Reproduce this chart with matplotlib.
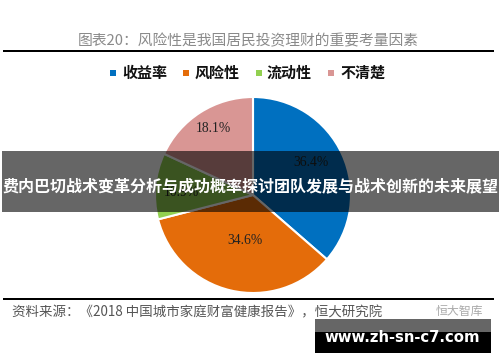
import matplotlib
matplotlib.use("Agg")
import matplotlib.pyplot as plt
from matplotlib.patches import Rectangle

plt.rcParams['font.family'] = ['Noto Sans CJK SC', 'DejaVu Sans']

W, H = 500, 362

labels = ['收益率', '风险性', '流动性', '不清楚']
values = [36.4, 34.6, 10.9, 18.1]
value_labels = ['36.4%', '34.6%', '10.9%', '18.1%']
colors = ['#0070C0', '#E46C0A', '#92D050', '#D99694']

title = '图表20：风险性是我国居民投资理财的重要考量因素'
source = '资料来源：《2018 中国城市家庭财富健康报告》，恒大研究院'
brand = '恒大智库'
banner = '费内巴切战术变革分析与成功概率探讨团队发展与战术创新的未来展望'
site = 'www.zh-sn-c7.com'


def fx(x):
    return x / W


def fy(y):
    return 1 - y / H


fig = plt.figure(figsize=(W / 100, H / 100), dpi=100, facecolor='white')

# pie: centre about (253,195), radius about 98 px
R = 98
ax = fig.add_axes([fx(253 - R), fy(195 + R), 2 * R / W, 2 * R / H])
wedges, _ = ax.pie(values, colors=colors, startangle=90, counterclock=False, radius=1,
                   wedgeprops=dict(edgecolor='white', linewidth=1.5))
ax.set_xlim(-1, 1)
ax.set_ylim(-1, 1)
ax.axis('off')

# value labels, placed in pixel space like the reference
label_pos = [(311, 163), (245, 240), (181, 192), (213, 129)]
for txt, (x, y) in zip(value_labels, label_pos):
    fig.text(fx(x), fy(y), txt, ha='center', va='center', fontsize=9.8, color='#222222',
             family=['Liberation Serif'], zorder=2)

# rules
for y in (51, 298.5):
    fig.add_artist(Rectangle((fx(3), fy(y + 1)), 491 / W, 2 / H, transform=fig.transFigure,
                             facecolor='black', edgecolor='none'))

fig.text(fx(248.5), fy(41.5), title, ha='center', va='center', fontsize=10.65, color='#8a8a8a')

# legend
legend_sq = [113, 186, 259, 331]
legend_txt = [122, 195, 267, 340]
for name, col, sx, tx in zip(labels, colors, legend_sq, legend_txt):
    fig.add_artist(Rectangle((fx(sx - 3), fy(76)), 6 / W, 6 / H, transform=fig.transFigure,
                             facecolor=col, edgecolor='none'))
    fig.text(fx(tx), fy(72.5), name, ha='left', va='center', fontsize=10.8, fontweight='bold',
             color='#111111')

# source line
fig.text(fx(12), fy(312), source, ha='left', va='center', fontsize=9.7, color='#555555')
fig.text(fx(436), fy(311), brand, ha='left', va='center', fontsize=8.6, color='#aaaaaa')

# banner across the middle
fig.add_artist(Rectangle((fx(2), fy(212)), 497 / W, 61 / H, transform=fig.transFigure,
                         facecolor='black', edgecolor='none', alpha=0.6, zorder=5))
fig.text(fx(250.5), fy(186), banner, ha='center', va='center', fontsize=11.55, fontweight='bold',
         color='white', zorder=6)

# watermark box
fig.add_artist(Rectangle((fx(315), fy(332)), 176 / W, 13 / H, transform=fig.transFigure,
                         facecolor='#666666', edgecolor='none', zorder=5))
fig.add_artist(Rectangle((fx(315), fy(353)), 176 / W, 21 / H, transform=fig.transFigure,
                         facecolor='black', edgecolor='none', zorder=5))
fig.text(fx(402), fy(337), site, ha='center', va='center', fontsize=10.7, fontweight='bold',
         color='white', zorder=6, family=['DejaVu Sans'])

fig.savefig('out.png', dpi=100)
